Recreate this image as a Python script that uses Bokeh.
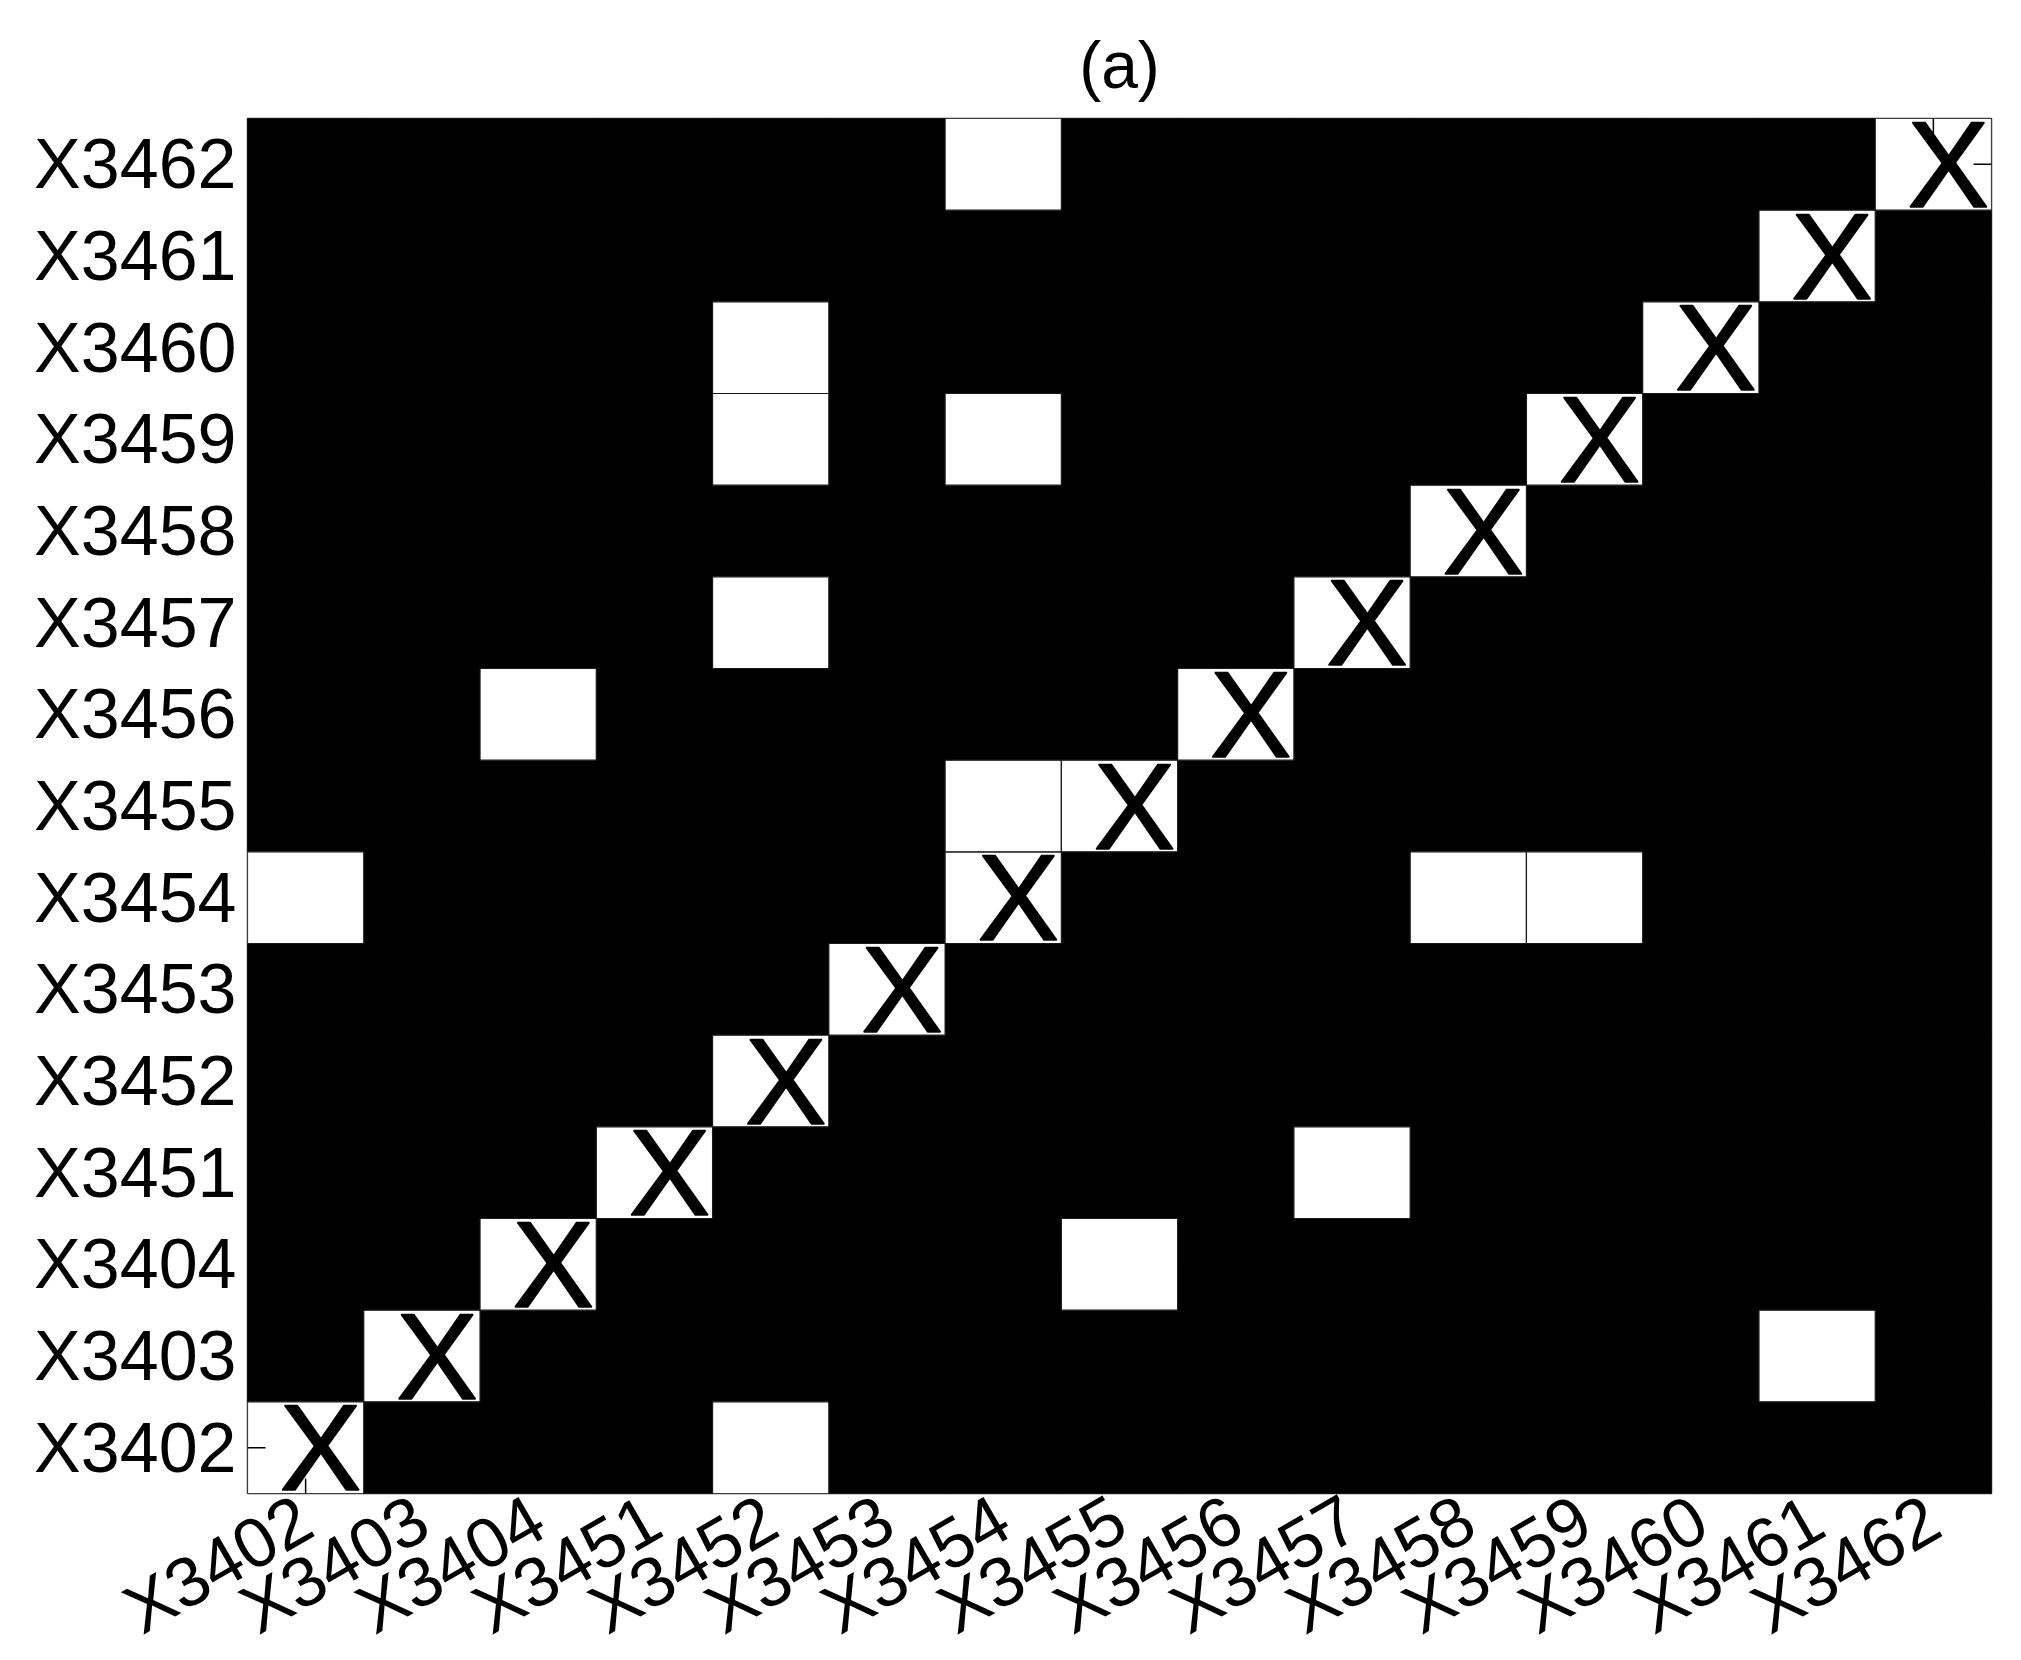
import math
from bokeh.plotting import figure
from bokeh.models import Range1d, FixedTicker, LinearAxis
from bokeh.core.properties import value
from bokeh.embed import file_html
from bokeh.resources import INLINE

# ---- data ----
labels = ["X3402", "X3403", "X3404", "X3451", "X3452", "X3453", "X3454", "X3455",
          "X3456", "X3457", "X3458", "X3459", "X3460", "X3461", "X3462"]

# off-diagonal linked (white) cells: column label -> row label
link_cols = ["X3454", "X3452", "X3452", "X3454", "X3452", "X3404", "X3454",
             "X3402", "X3458", "X3459", "X3457", "X3455", "X3461", "X3452"]
link_rows = ["X3462", "X3460", "X3459", "X3459", "X3457", "X3456", "X3455",
             "X3454", "X3454", "X3454", "X3451", "X3404", "X3403", "X3402"]

title_text = "(a)"
diag_mark = "X"

# ---- build matrix ----
n = len(labels)
idx = {lab: i for i, lab in enumerate(labels)}
linked = set((idx[c], idx[r]) for c, r in zip(link_cols, link_rows))
linked |= set((i, i) for i in range(n))

xs, ys, colors = [], [], []
for i in range(n):
    for j in range(n):
        xs.append(i)
        ys.append(j)
        colors.append("white" if (i, j) in linked else "black")

FONT = "Liberation Sans"

p = figure(frame_width=1744, frame_height=1375, output_backend="svg",
           toolbar_location=None,
           x_range=Range1d(-0.5, n - 0.5), y_range=Range1d(-0.5, n - 0.5),
           min_border_left=247, min_border_right=20, min_border_top=118,
           min_border_bottom=20, x_axis_location=None, y_axis_location=None)
p.grid.visible = False
p.outline_line_color = "#303030"
p.outline_line_width = 1.5
p.background_fill_color = "black"

p.title.text = title_text
p.title.align = "center"
p.title.vertical_align = "top"
p.title.text_font = FONT
p.title.text_font_size = "66px"
p.title.text_font_style = "normal"
p.title.text_color = "black"
p.title.standoff = 30

blk = [k for k, c in enumerate(colors) if c == "black"]
wht = [k for k, c in enumerate(colors) if c == "white"]
p.rect(x=[xs[k] for k in blk], y=[ys[k] for k in blk], width=1, height=1,
       fill_color="black", line_color="black", line_width=1)
p.rect(x=[xs[k] for k in wht], y=[ys[k] for k in wht], width=1, height=1,
       fill_color="white", line_color="#1a1a1a", line_width=1.2)

# diagonal X marks
diag = list(range(n))
p.text(x=diag, y=diag, text=[diag_mark] * n,
       text_font=value(FONT), text_font_size="123px", text_color="black",
       text_outline_color="black",
       text_align="center", text_baseline="middle", x_offset=15, y_offset=0)

ticks = list(range(n))
overrides = {i: lab for i, lab in enumerate(labels)}


def make_axis(side):
    ax = LinearAxis(ticker=FixedTicker(ticks=ticks))
    ax.axis_line_color = None
    ax.major_tick_line_color = None
    ax.major_tick_in = 0
    ax.major_tick_out = 0
    ax.minor_tick_line_color = None
    ax.major_label_overrides = overrides
    ax.major_label_text_font = FONT
    ax.major_label_text_font_size = "70px"
    ax.major_label_text_color = "black"
    p.add_layout(ax, side)
    return ax


xb = make_axis("below")
xb.major_label_orientation = math.pi / 6
xb.major_label_standoff = 20
yl = make_axis("left")
yl.major_label_standoff = 11

# corner tick marks (visible only on the white corner cells)
first, last = ticks[0], ticks[-1]
lo, hi = -0.5, n - 0.5
p.ray(x=[first], y=[lo], length=15, length_units="screen", angle=math.pi / 2,
      line_color="black", line_width=1.5)
p.ray(x=[lo], y=[first], length=18, length_units="screen", angle=0,
      line_color="black", line_width=1.5)
p.ray(x=[last], y=[hi], length=15, length_units="screen", angle=-math.pi / 2,
      line_color="black", line_width=1.5)
p.ray(x=[hi], y=[last], length=18, length_units="screen", angle=math.pi,
      line_color="black", line_width=1.5)

open("out.html", "w").write(file_html(p, INLINE))
